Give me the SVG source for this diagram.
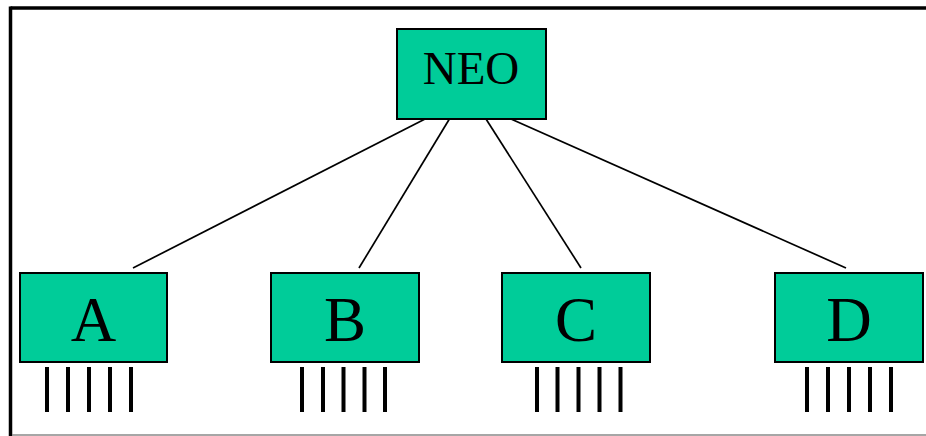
<svg xmlns="http://www.w3.org/2000/svg" width="926" height="436" viewBox="0 0 926 436">
<style>
.box{fill:#00CC99;stroke:#000;stroke-width:2}
.lbl{font-family:"Liberation Serif","Times New Roman",serif;fill:#000;text-anchor:middle}
.conn{stroke:#000;stroke-width:1.7;fill:none}
.bar{stroke:#000;stroke-width:4}
</style>
<rect x="0" y="0" width="926" height="436" fill="#fff"/>
<g id="frame">
<line x1="10.5" y1="8" x2="926" y2="8" stroke="#000" stroke-width="3.5"/>
<line x1="10.5" y1="6.5" x2="10.5" y2="436" stroke="#000" stroke-width="3.5"/>
<line x1="12" y1="435" x2="926" y2="435" stroke="#888" stroke-width="1.5"/>
</g>
<g id="connectors">
<line class="conn" x1="427" y1="118" x2="133" y2="268"/>
<line class="conn" x1="450" y1="118" x2="359" y2="268"/>
<line class="conn" x1="486" y1="119" x2="581" y2="268"/>
<line class="conn" x1="511" y1="119" x2="846" y2="268"/>
</g>
<g id="NEO">
<rect class="box" x="397" y="29" width="149" height="90"/>
<text class="lbl" x="471" y="83.5" font-size="47">NEO</text>
</g>
<g id="A">
<rect class="box" x="20" y="273" width="147" height="89"/>
<text class="lbl" x="93.5" y="341" font-size="63">A</text>
<g class="bar"><line x1="47" y1="367" x2="47" y2="412"/><line x1="68" y1="367" x2="68" y2="412"/><line x1="89" y1="367" x2="89" y2="412"/><line x1="110" y1="367" x2="110" y2="412"/><line x1="131" y1="367" x2="131" y2="412"/></g>
</g>
<g id="B">
<rect class="box" x="271" y="273" width="148" height="89"/>
<text class="lbl" x="345" y="341" font-size="63">B</text>
<g class="bar"><line x1="302" y1="367" x2="302" y2="412"/><line x1="323" y1="367" x2="323" y2="412"/><line x1="343.5" y1="367" x2="343.5" y2="412"/><line x1="364.5" y1="367" x2="364.5" y2="412"/><line x1="385" y1="367" x2="385" y2="412"/></g>
</g>
<g id="C">
<rect class="box" x="502" y="273" width="148" height="89"/>
<text class="lbl" x="576" y="341" font-size="63">C</text>
<g class="bar"><line x1="537" y1="367" x2="537" y2="412"/><line x1="557.5" y1="367" x2="557.5" y2="412"/><line x1="578.5" y1="367" x2="578.5" y2="412"/><line x1="599.5" y1="367" x2="599.5" y2="412"/><line x1="620.5" y1="367" x2="620.5" y2="412"/></g>
</g>
<g id="D">
<rect class="box" x="775" y="273" width="148" height="89"/>
<text class="lbl" x="849" y="341" font-size="63">D</text>
<g class="bar"><line x1="807" y1="367" x2="807" y2="412"/><line x1="828" y1="367" x2="828" y2="412"/><line x1="849" y1="367" x2="849" y2="412"/><line x1="870" y1="367" x2="870" y2="412"/><line x1="891" y1="367" x2="891" y2="412"/></g>
</g>
</svg>
